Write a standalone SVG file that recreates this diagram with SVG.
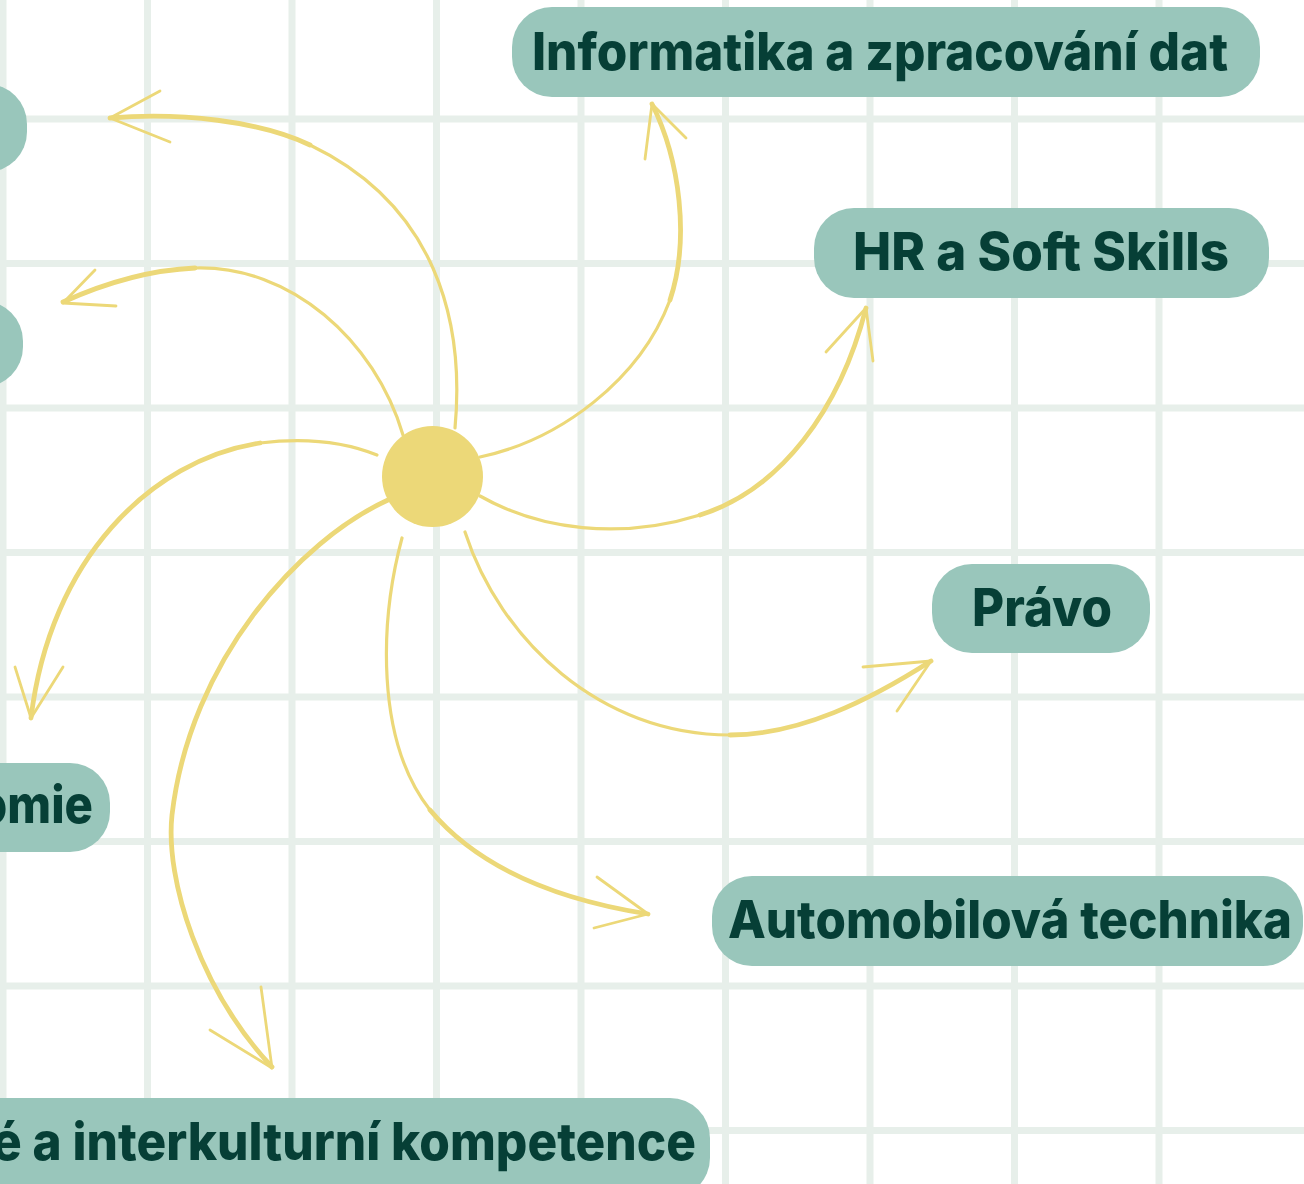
<svg xmlns="http://www.w3.org/2000/svg" width="1304" height="1184" viewBox="0 0 1304 1184">
<style>
.grid line{stroke:#e7efea;stroke-width:7}
.node rect{fill:#99c6bb}
.node text{font-family:Inter,"Noto Sans","Liberation Sans",sans-serif;font-weight:800;font-size:52px;fill:#063f36}
.conn path{fill:none;stroke:#ecd878;stroke-linecap:round;stroke-linejoin:round}
.conn .a{stroke-width:3.2}
.conn .b{stroke-width:4.8}
.conn .head{stroke-width:2.8}
</style>
<rect width="1304" height="1184" fill="#ffffff"/>
<g class="grid">
<line x1="3" y1="0" x2="3" y2="1184"/>
<line x1="147.5" y1="0" x2="147.5" y2="1184"/>
<line x1="292" y1="0" x2="292" y2="1184"/>
<line x1="436.5" y1="0" x2="436.5" y2="1184"/>
<line x1="581" y1="0" x2="581" y2="1184"/>
<line x1="725.5" y1="0" x2="725.5" y2="1184"/>
<line x1="870" y1="0" x2="870" y2="1184"/>
<line x1="1014.5" y1="0" x2="1014.5" y2="1184"/>
<line x1="1159" y1="0" x2="1159" y2="1184"/>
<line x1="0" y1="119" x2="1304" y2="119"/>
<line x1="0" y1="263.5" x2="1304" y2="263.5"/>
<line x1="0" y1="408" x2="1304" y2="408"/>
<line x1="0" y1="552.5" x2="1304" y2="552.5"/>
<line x1="0" y1="697" x2="1304" y2="697"/>
<line x1="0" y1="841.5" x2="1304" y2="841.5"/>
<line x1="0" y1="986" x2="1304" y2="986"/>
<line x1="0" y1="1130.5" x2="1304" y2="1130.5"/>
</g>
<g class="conn">
<path class="a" d="M455,428 C465,320 435,205 310,145"/>
<path class="b" d="M310,145 C260,121 180,112 110,118"/>
<path class="head" d="M160,91 L110,118 L170,142"/>
<path class="a" d="M403,435 C375,340 290,265 195,268"/>
<path class="b" d="M195,268 C150,270 105,283 63,302"/>
<path class="head" d="M95,270 L63,303 L116,306"/>
<path class="a" d="M377,455 C340,440 300,438 260,443"/>
<path class="b" d="M260,443 C150,460 50,560 31,718"/>
<path class="head" d="M15,667 L31,718 L63,667"/>
<path class="b" d="M388,500 C300,540 190,660 172,815 C165,880 200,990 272,1067"/>
<path class="head" d="M210,1030 L272,1068 L261,987"/>
<path class="a" d="M402,538 C380,620 375,740 430,810"/>
<path class="b" d="M430,810 C480,870 560,900 648,914"/>
<path class="head" d="M597,877 L648,914 L594,928"/>
<path class="a" d="M465,532 C500,640 600,735 730,735"/>
<path class="b" d="M730,735 C800,735 870,700 931,661"/>
<path class="head" d="M863,667 L931,661 L897,711"/>
<path class="a" d="M480,496 C540,530 620,540 700,515"/>
<path class="b" d="M700,515 C780,490 840,410 866,308"/>
<path class="head" d="M826,352 L866,308 L873,361"/>
<path class="a" d="M480,457 C560,440 640,380 670,300"/>
<path class="b" d="M670,300 C690,240 680,160 652,104"/>
<path class="head" d="M645,159 L652,104 L686,138"/>
</g>
<g id="center"><circle cx="432.5" cy="476.5" r="50.5" fill="#ecd878"/></g>
<g id="node-informatika" class="node">
<rect x="512" y="7" width="748" height="90" rx="40"/>
<text x="532" y="70" textLength="696" lengthAdjust="spacingAndGlyphs">Informatika a zpracování dat</text>
</g>
<g id="node-hr" class="node">
<rect x="814" y="208" width="455" height="90" rx="40"/>
<text x="853" y="270" textLength="376" lengthAdjust="spacingAndGlyphs">HR a Soft Skills</text>
</g>
<g id="node-pravo" class="node">
<rect x="932" y="564" width="218" height="89" rx="40"/>
<text x="972" y="626" textLength="140" lengthAdjust="spacingAndGlyphs">Právo</text>
</g>
<g id="node-auto" class="node">
<rect x="712" y="876" width="591" height="90" rx="40"/>
<text x="728" y="938" textLength="564" lengthAdjust="spacingAndGlyphs">Automobilová technika</text>
</g>
<g id="node-kompetence" class="node">
<rect x="-60" y="1098" width="770" height="100" rx="40"/>
<text x="-8" y="1160" textLength="704" lengthAdjust="spacingAndGlyphs">é a interkulturní kompetence</text>
</g>
<g id="node-omie" class="node">
<rect x="-60" y="763" width="170" height="89" rx="40"/>
<text x="-22" y="823" textLength="115" lengthAdjust="spacingAndGlyphs">omie</text>
</g>
<g id="node-left1" class="node">
<rect x="-80" y="84" width="107" height="88" rx="40"/>
</g>
<g id="node-left2" class="node">
<rect x="-80" y="301" width="103" height="86" rx="40"/>
</g>
</svg>
